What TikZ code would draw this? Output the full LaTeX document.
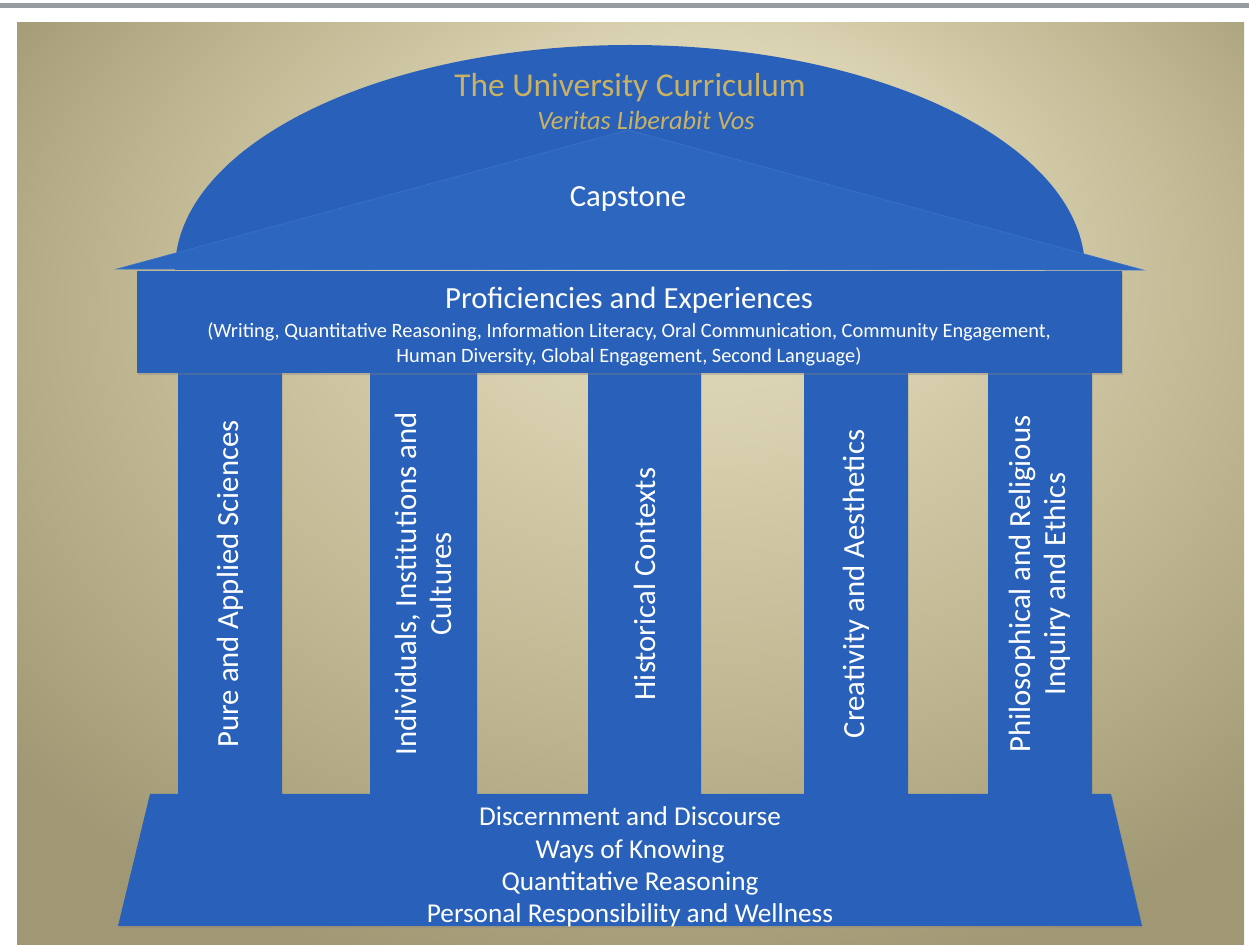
\documentclass[tikz,border=0pt]{standalone}
\usepackage{fontspec}
\setmainfont{Carlito}
\usetikzlibrary{shadows}

\definecolor{temple}{RGB}{40,96,186}
\definecolor{templehi}{RGB}{45,102,191}
\definecolor{templeedge}{RGB}{56,114,200}
\definecolor{gilt}{RGB}{202,178,98}
\definecolor{scanline}{RGB}{150,156,162}
\definecolor{wallhi}{RGB}{236,231,204}
\definecolor{wallmid}{RGB}{214,206,172}
\definecolor{walllo}{RGB}{188,179,142}
\definecolor{walldk}{RGB}{160,151,116}

\pgfdeclareradialshading{wall}{\pgfpoint{4bp}{18bp}}{%
  color(0bp)=(wallhi); color(12bp)=(wallmid); color(24bp)=(walllo);
  color(34bp)=(walldk); color(50bp)=(walldk)}

\begin{document}
\begin{tikzpicture}[x=0.02cm, y=-0.02cm,
  slab/.style={fill=temple, drop shadow={shadow xshift=0.6pt, shadow yshift=-0.9pt, opacity=0.35}},
  pillar/.style={fill=temple, drop shadow={shadow xshift=0.6pt, shadow yshift=-0.6pt, opacity=0.25}},
  gable/.style={fill=templehi, draw=templeedge, line width=0.4pt},
  gold/.style={text=gilt, inner sep=0pt},
  heading/.style={text=white, inner sep=0pt, font=\fontsize{17.5}{21}\selectfont},
  small/.style={text=white, inner sep=0pt, align=center, font=\fontsize{11.6}{14.4}\selectfont},
  colname/.style={text=white, inner sep=0pt, align=center, rotate=90,
                  font=\fontsize{17.5}{20}\selectfont},
  basetext/.style={text=white, inner sep=0pt, align=center, font=\fontsize{15.5}{18.4}\selectfont}
]
% page, scanner edge and backdrop
\fill[white] (0,0) rectangle (1249,945);
\fill[scanline] (0,3) rectangle (1249,8);
\fill[shading=wall] (17,23) rectangle (1244,945);

% dome
\begin{scope}
  \clip (0,0) rectangle (1249,270);
  \fill[temple] (630,270) ellipse [x radius=455, y radius=225];
\end{scope}

% gable
\fill[gable] (117,269) -- (628,130) -- (1143,270) -- cycle;

% pillars
\fill[pillar] (178,373) rectangle (282,795);
\fill[pillar] (370,373) rectangle (477,795);
\fill[pillar] (588,373) rectangle (701,795);
\fill[pillar] (804,373) rectangle (908,795);
\fill[pillar] (988,373) rectangle (1092,795);

% entablature and base
\fill[slab] (137,271) rectangle (1122,373);
\fill[slab] (150,794) -- (1111,794) -- (1142,926) -- (118,926) -- cycle;

% labels
\node[gold, anchor=base, font=\fontsize{19}{22}\selectfont] (title) at (630,97) {The University Curriculum};
\node[gold, anchor=base, font=\fontsize{15}{18}\selectfont\itshape] (motto) at (646,130) {Veritas Liberabit Vos};
\node[heading, anchor=base] (cap) at (628,207) {Capstone};
\node[heading, anchor=base] (prof) at (629,309) {Proficiencies and Experiences};
\node[small] (proflist) at (629,344) {(Writing, Quantitative Reasoning, Information Literacy, Oral Communication, Community Engagement,\\
  Human Diversity, Global Engagement, Second Language)};

\node[colname] (sci) at (230,584) {Pure and Applied Sciences};
\node[colname] (soc) at (423.5,584) {Individuals, Institutions and\\Cultures};
\node[colname] (hist) at (644.5,584) {Historical Contexts};
\node[colname] (art) at (856,584) {Creativity and Aesthetics};
\node[colname] (phil) at (1040,584) {Philosophical and Religious\\Inquiry and Ethics};

\node[basetext] (core) at (630,867) {Discernment and Discourse\\Ways of Knowing\\Quantitative Reasoning\\Personal Responsibility and Wellness};
\end{tikzpicture}
\end{document}
